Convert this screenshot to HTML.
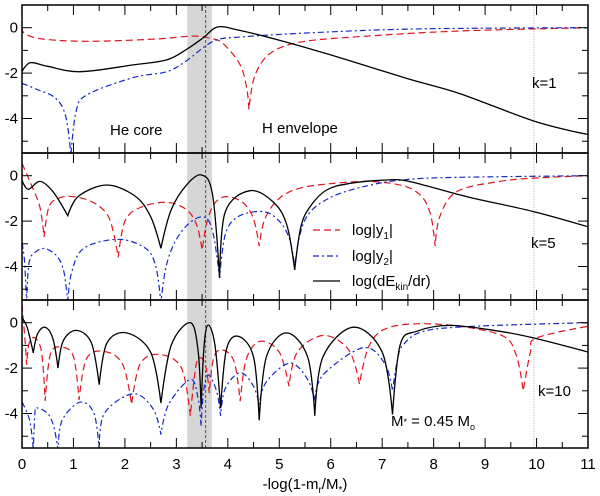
<!DOCTYPE html>
<html><head><meta charset="utf-8"><style>
html,body{margin:0;padding:0;background:#fff;}
svg{display:block;font-family:"Liberation Sans",Arial,sans-serif;}
</style></head><body>
<svg id="chart" width="600" height="496" viewBox="0 0 600 496" xmlns="http://www.w3.org/2000/svg">
<defs>
<clipPath id="c0"><rect x="22" y="5" width="566" height="148"/></clipPath>
<clipPath id="c1"><rect x="22" y="153" width="566" height="147"/></clipPath>
<clipPath id="c2"><rect x="22" y="300" width="566" height="148"/></clipPath>
</defs>
<g id="bg"></g>
<g id="curves"></g>
<g id="axes"></g>
<text x="110" y="135" font-size="15">He core</text>
<text x="262" y="133" font-size="15">H envelope</text>
<text x="532" y="88" font-size="15">k=1</text>
<text x="531" y="248" font-size="15">k=5</text>
<text x="538" y="396" font-size="15">k=10</text>
<g>
<line x1="313" y1="230" x2="340" y2="230" stroke="#e0141e" stroke-width="1.2" stroke-dasharray="7,4"/>
<text x="352" y="235" font-size="15">log|y<tspan font-size="10" dy="4">1</tspan><tspan dy="-4">|</tspan></text>
<line x1="313" y1="256" x2="340" y2="256" stroke="#1428c8" stroke-width="1.2" stroke-dasharray="6,3,2,3"/>
<text x="352" y="261" font-size="15">log|y<tspan font-size="10" dy="4">2</tspan><tspan dy="-4">|</tspan></text>
<line x1="313" y1="281" x2="340" y2="281" stroke="#000" stroke-width="1.3"/>
<text x="352" y="286" font-size="15">log(dE<tspan font-size="10" dy="4">kin</tspan><tspan dy="-4">/dr)</tspan></text>
</g>
<text x="391" y="426" font-size="15">M<tspan font-size="9" dy="-1">*</tspan><tspan dy="1"> = 0.45 M</tspan><tspan font-size="9" dy="4">o</tspan></text>
<text x="305" y="489" font-size="15" text-anchor="middle">-log(1-m<tspan font-size="10" dy="4">r</tspan><tspan dy="-4">/M</tspan><tspan font-size="10" dy="4">*</tspan><tspan dy="-4">)</tspan></text>
</svg>
<script>
const xTicks = [0,1,2,3,4,5,6,7,8,9,10,11];
const yTicks = [0,-2,-4];
const panelNames = ['k1','k5','k10'];
const top_y1 = [[0,0.05],[0.05,-0.25],[0.4,-0.5],[1.3,-0.6],[2.6,-0.5],[3.3,-0.37],[3.65,-0.46],[3.91,-0.7],[4.24,-1.64],[4.37,-2.7],[4.41,-3.6],[4.5,-2.3],[4.7,-1.4],[5.0,-0.9],[5.5,-0.6],[6.5,-0.4],[8.45,-0.15],[11,0]];
const top_y2 = [[0,-2.45],[0.27,-2.7],[0.65,-3.1],[0.85,-3.9],[0.95,-5.6],[1.05,-3.7],[1.26,-2.96],[2.16,-2.2],[2.81,-1.94],[3.2,-1.45],[3.72,-0.6],[4.3,-0.4],[5.85,-0.2],[7.8,-0.05],[11,0]];
const top_E = [[0,-1.94],[0.16,-1.54],[0.5,-1.7],[1.13,-1.94],[2.16,-1.64],[2.81,-1.42],[3.2,-0.95],[3.52,-0.45],[3.8,0.03],[4.2,-0.1],[5,-0.55],[6,-1.2],[7.5,-2.25],[8.5,-2.9],[10,-4.15],[11,-4.7]];
const mid_y1 = [[0,0.55],[0.2,-0.5],[0.35,-1.4],[0.43,-2.7],[0.52,-1.4],[0.7,-1.0],[1.0,-0.92],[1.4,-1.2],[1.7,-1.9],[1.87,-3.6],[2.0,-2.0],[2.3,-1.4],[2.81,-1.17],[3.2,-1.5],[3.4,-2.2],[3.5,-3.27],[3.6,-2.0],[3.75,-1.2],[3.98,-0.92],[4.3,-1.2],[4.5,-1.9],[4.61,-3.1],[4.72,-1.9],[5.0,-1.0],[5.4,-0.55],[6.0,-0.35],[6.7,-0.25],[7.2,-0.35],[7.54,-0.55],[7.8,-1.0],[7.95,-1.8],[8.03,-3.1],[8.12,-1.8],[8.45,-0.7],[9.29,-0.25],[10,-0.1],[11,0]];
const mid_y2 = [[0,-2.96],[0.05,-3.8],[0.09,-5.6],[0.14,-3.8],[0.3,-3.3],[0.48,-3.23],[0.7,-3.6],[0.82,-4.3],[0.89,-5.6],[0.96,-4.3],[1.2,-3.2],[1.87,-2.8],[2.4,-3.2],[2.6,-4.0],[2.7,-5.6],[2.8,-4.0],[3.0,-2.8],[3.3,-2.0],[3.57,-1.85],[3.72,-2.6],[3.84,-4.5],[3.95,-2.6],[4.2,-1.8],[4.69,-1.58],[5.0,-2.0],[5.2,-2.8],[5.3,-4.0],[5.4,-2.6],[5.6,-1.6],[6.05,-0.9],[6.7,-0.45],[7.35,-0.2],[8.3,-0.08],[11,0]];
const mid_E = [[0,-0.2],[0.12,-0.6],[0.35,-0.25],[0.6,-0.7],[0.89,-1.76],[1.1,-0.9],[1.65,-0.41],[2.2,-0.9],[2.5,-1.8],[2.7,-3.2],[2.9,-1.5],[3.2,-0.4],[3.49,0.03],[3.7,-0.8],[3.84,-4.5],[3.95,-1.6],[4.43,-0.66],[4.9,-1.2],[5.15,-2.2],[5.3,-4.15],[5.42,-2.25],[5.6,-1.36],[5.92,-0.63],[6.37,-0.34],[7.09,-0.19],[7.54,-0.26],[8.64,-0.92],[9.94,-1.58],[11,-2.25]];
const bot_y1 = [[0,0.8],[0.06,-0.8],[0.09,-1.85],[0.14,-0.9],[0.25,-0.67],[0.38,-1.3],[0.45,-3.45],[0.55,-1.4],[0.77,-1.08],[1.0,-1.5],[1.11,-3.4],[1.25,-1.6],[1.58,-1.26],[1.95,-1.8],[2.13,-3.6],[2.3,-1.8],[2.68,-1.4],[3.1,-2.0],[3.27,-4.1],[3.38,-1.9],[3.48,-1.55],[3.58,-2.0],[3.64,-3.1],[3.72,-1.6],[3.88,-1.19],[4.12,-1.7],[4.24,-3.46],[4.36,-1.6],[4.63,-0.82],[5.0,-1.3],[5.19,-2.8],[5.35,-1.3],[5.86,-0.56],[6.35,-1.2],[6.56,-2.7],[6.75,-1.0],[7.15,-0.2],[8.12,-0.07],[9.29,-0.53],[9.6,-1.4],[9.74,-3.0],[9.88,-1.3],[10.0,-0.67],[11,-0.16]];
const bot_y2 = [[0,-3.5],[0.15,-4.3],[0.22,-5.6],[0.25,-4.0],[0.28,-3.75],[0.5,-4.0],[0.62,-4.6],[0.7,-5.6],[0.78,-4.3],[1.13,-3.5],[1.4,-4.0],[1.5,-5.6],[1.6,-4.0],[2.16,-3.13],[2.55,-3.8],[2.7,-4.93],[2.85,-3.6],[3.27,-2.5],[3.42,-3.3],[3.48,-4.55],[3.53,-3.0],[3.62,-2.3],[3.78,-3.0],[3.86,-4.1],[3.95,-2.9],[4.24,-2.2],[4.5,-2.8],[4.61,-3.6],[4.75,-2.6],[5.21,-1.78],[5.55,-2.5],[5.69,-3.45],[5.85,-2.3],[6.63,-1.1],[7.05,-1.8],[7.2,-3.0],[7.3,-1.6],[7.41,-0.97],[7.8,-0.38],[8.77,-0.16],[11,0]];
const bot_E = [[0,0.2],[0.1,-0.2],[0.22,-1.33],[0.3,-0.5],[0.45,-0.2],[0.6,-0.7],[0.7,-2.0],[0.8,-0.8],[1.06,-0.34],[1.35,-0.9],[1.5,-2.73],[1.65,-0.9],[2.03,-0.45],[2.5,-1.3],[2.7,-3.54],[2.9,-1.0],[3.27,0.0],[3.42,-1.2],[3.48,-3.76],[3.54,-1.0],[3.62,-0.1],[3.75,-1.0],[3.86,-3.76],[3.97,-1.2],[4.2,-0.6],[4.5,-1.5],[4.61,-4.3],[4.75,-1.5],[5.14,-0.45],[5.55,-1.5],[5.69,-4.1],[5.85,-1.5],[6.44,-0.2],[7.0,-1.3],[7.2,-4.05],[7.35,-0.97],[7.67,-0.38],[8.32,-0.12],[9.29,-0.38],[9.94,-0.67],[11,-1.29]];
const bandX = [3.21, 3.69];
const boundaryX = 3.57;
const dottedX = 9.95;

const NS = 'http://www.w3.org/2000/svg';
const X0 = 22, X1 = 588, XMAX = 11;
const panelTop = [5, 153, 300];
const PU = 22.7;
function sx(v){ return X0 + (v / XMAX) * (X1 - X0); }
function sy(p, v){ return panelTop[p] + (1 - v) * PU; }
function mk(tag, attrs, parent){
  const e = document.createElementNS(NS, tag);
  for (const k in attrs) e.setAttribute(k, attrs[k]);
  parent.appendChild(e); return e;
}
const bg = document.getElementById('bg'), cg = document.getElementById('curves'), ag = document.getElementById('axes');

// band and vertical lines
const band = mk('rect', {x: sx(bandX[0]), y: 5, width: sx(bandX[1]) - sx(bandX[0]), height: 443, fill: '#d6d6d6'}, bg);


const bl = mk('line', {x1: sx(boundaryX), x2: sx(boundaryX), y1: 5, y2: 448, stroke: '#333', 'stroke-width': 0.8, 'stroke-dasharray': '3,2'}, bg);


const dl = mk('line', {x1: sx(dottedX), x2: sx(dottedX), y1: 5, y2: 448, stroke: '#bbb', 'stroke-width': 1, 'stroke-dasharray': '1,1'}, bg);



function pathFor(p, pts){
  const P = pts.map(d => [sx(d[0]), sy(p, d[1])]);
  const cusp = pts.map((d, i) => i > 0 && i < pts.length - 1 && d[1] < pts[i-1][1] - 0.6 && d[1] < pts[i+1][1] - 0.6);
  let s = 'M' + P[0][0].toFixed(1) + ',' + P[0][1].toFixed(1);
  const tan = P.map((q, i) => {
    if (i === 0 || i === P.length - 1 || cusp[i]) return [0, 0];
    return [(P[i+1][0] - P[i-1][0]) / 6, (P[i+1][1] - P[i-1][1]) / 6];
  });
  for (let i = 0; i < P.length - 1; i++){
    const a = P[i], b = P[i+1];
    let t0 = tan[i], t1 = tan[i+1];
    // avoid bulging next to cusps: keep control y not below/above segment extremes
    const c1 = [a[0] + t0[0], a[1] + t0[1]], c2 = [b[0] - t1[0], b[1] - t1[1]];
    s += 'C' + c1[0].toFixed(1) + ',' + c1[1].toFixed(1) + ' ' + c2[0].toFixed(1) + ',' + c2[1].toFixed(1) + ' ' + b[0].toFixed(1) + ',' + b[1].toFixed(1);
  }
  return s;
}
const series = [
  [top_y1, top_y2, top_E],
  [mid_y1, mid_y2, mid_E],
  [bot_y1, bot_y2, bot_E]
];
const styles = [
  {stroke: '#e0141e', 'stroke-dasharray': '7,4', 'stroke-width': 1.2},
  {stroke: '#1428c8', 'stroke-dasharray': '6,3,2,3', 'stroke-width': 1.2},
  {stroke: '#000', 'stroke-width': 1.3}
];
const sNames = ['y1', 'y2', 'ekin'];
for (let p = 0; p < 3; p++){
  const g = mk('g', {'clip-path': 'url(#c' + p + ')'}, cg);
  
  
  for (let s = 0; s < 3; s++){
    const a = Object.assign({d: pathFor(p, series[p][s]), fill: 'none'}, styles[s]);
    const el = mk('path', a, g);
    
    
  }
}
// axes
for (let p = 0; p < 3; p++){
  const t = panelTop[p], b = p === 2 ? 448 : panelTop[p + 1];
  const fr = mk('rect', {x: X0, y: t, width: X1 - X0, height: b - t, fill: 'none', stroke: '#000', 'stroke-width': 1.5}, ag);
  
  
  for (let v = 0; v <= 11; v += 0.5){
    const len = Number.isInteger(v) ? 10 : 6;
    mk('line', {x1: sx(v), x2: sx(v), y1: t, y2: t + len, stroke: '#000', 'stroke-width': 1}, ag);
    mk('line', {x1: sx(v), x2: sx(v), y1: b, y2: b - len, stroke: '#000', 'stroke-width': 1}, ag);
  }
  for (let v = 0; v >= -5; v--){
    const len = v % 2 === 0 ? 10 : 6;
    mk('line', {x1: X0, x2: X0 + len, y1: sy(p, v), y2: sy(p, v), stroke: '#000', 'stroke-width': 1}, ag);
    mk('line', {x1: X1, x2: X1 - len, y1: sy(p, v), y2: sy(p, v), stroke: '#000', 'stroke-width': 1}, ag);
  }
  yTicks.forEach(v => {
    const tx = mk('text', {x: 18, y: sy(p, v) + 5, 'font-size': 15, 'text-anchor': 'end'}, ag);
    tx.textContent = String(v);
    
    
  });
}
xTicks.forEach(v => {
  const tx = mk('text', {x: sx(v), y: 469, 'font-size': 15, 'text-anchor': 'middle'}, ag);
  tx.textContent = String(v);
  
  
});
</script>
</body></html>
